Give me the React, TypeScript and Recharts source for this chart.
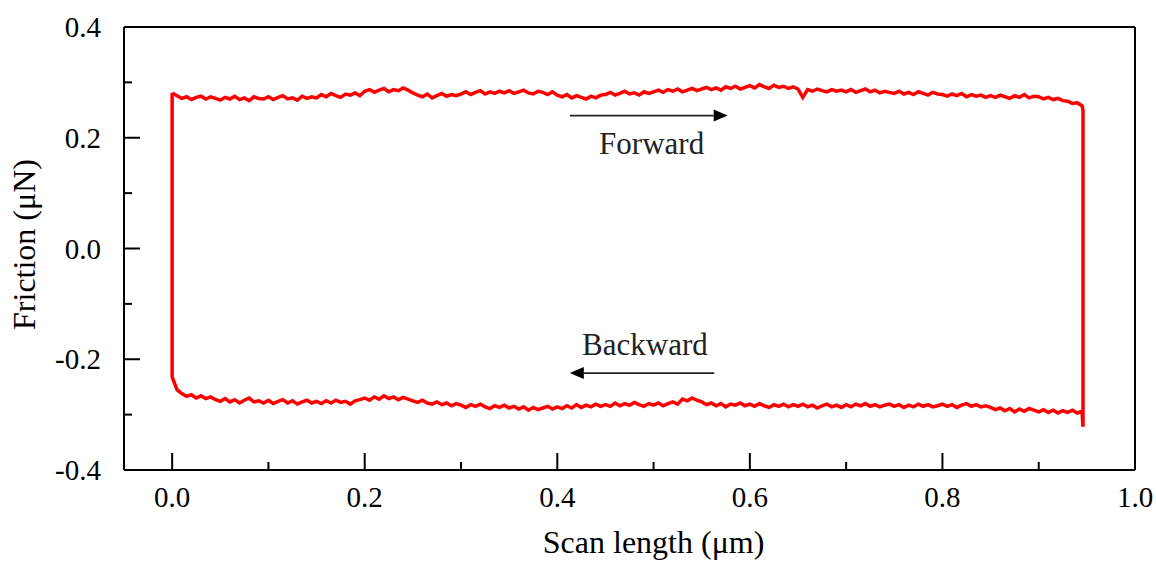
import React from 'react';
import { LineChart, Line, XAxis, YAxis, ReferenceLine, ReferenceDot } from 'recharts';

const scanGrid = [
  0.000, 0.005, 0.010, 0.015, 0.020, 0.025, 0.030, 0.035, 0.040, 0.045,
  0.050, 0.055, 0.060, 0.065, 0.070, 0.075, 0.080, 0.085, 0.090, 0.095,
  0.100, 0.105, 0.110, 0.115, 0.120, 0.125, 0.130, 0.135, 0.140, 0.145,
  0.150, 0.155, 0.160, 0.165, 0.170, 0.175, 0.180, 0.185, 0.190, 0.195,
  0.200, 0.205, 0.210, 0.215, 0.220, 0.225, 0.230, 0.235, 0.240, 0.245,
  0.250, 0.255, 0.260, 0.265, 0.270, 0.275, 0.280, 0.285, 0.290, 0.295,
  0.300, 0.305, 0.310, 0.315, 0.320, 0.325, 0.330, 0.335, 0.340, 0.345,
  0.350, 0.355, 0.360, 0.365, 0.370, 0.375, 0.380, 0.385, 0.390, 0.395,
  0.400, 0.405, 0.410, 0.415, 0.420, 0.425, 0.430, 0.435, 0.440, 0.445,
  0.450, 0.455, 0.460, 0.465, 0.470, 0.475, 0.480, 0.485, 0.490, 0.495,
  0.500, 0.505, 0.510, 0.515, 0.520, 0.525, 0.530, 0.535, 0.540, 0.545,
  0.550, 0.555, 0.560, 0.565, 0.570, 0.575, 0.580, 0.585, 0.590, 0.595,
  0.600, 0.605, 0.610, 0.615, 0.620, 0.625, 0.630, 0.635, 0.640, 0.645,
  0.650, 0.655, 0.660, 0.665, 0.670, 0.675, 0.680, 0.685, 0.690, 0.695,
  0.700, 0.705, 0.710, 0.715, 0.720, 0.725, 0.730, 0.735, 0.740, 0.745,
  0.750, 0.755, 0.760, 0.765, 0.770, 0.775, 0.780, 0.785, 0.790, 0.795,
  0.800, 0.805, 0.810, 0.815, 0.820, 0.825, 0.830, 0.835, 0.840, 0.845,
  0.850, 0.855, 0.860, 0.865, 0.870, 0.875, 0.880, 0.885, 0.890, 0.895,
  0.900, 0.905, 0.910, 0.915, 0.920, 0.925, 0.930, 0.935, 0.940, 0.945,
];

const frictionForward = [
  0.281, 0.276, 0.271, 0.274, 0.269, 0.273, 0.275, 0.270, 0.274, 0.271,
  0.268, 0.273, 0.270, 0.275, 0.269, 0.272, 0.267, 0.274, 0.271, 0.270,
  0.274, 0.269, 0.273, 0.276, 0.270, 0.272, 0.268, 0.275, 0.271, 0.274,
  0.272, 0.278, 0.274, 0.280, 0.276, 0.273, 0.279, 0.277, 0.281, 0.276,
  0.284, 0.287, 0.282, 0.286, 0.289, 0.283, 0.287, 0.285, 0.290, 0.286,
  0.281, 0.277, 0.274, 0.279, 0.272, 0.276, 0.280, 0.275, 0.278, 0.276,
  0.279, 0.283, 0.278, 0.282, 0.285, 0.279, 0.283, 0.280, 0.284, 0.281,
  0.285, 0.280, 0.283, 0.286, 0.281, 0.279, 0.284, 0.282, 0.278, 0.283,
  0.277, 0.274, 0.278, 0.272, 0.276, 0.273, 0.270, 0.275, 0.272, 0.277,
  0.278, 0.282, 0.277, 0.280, 0.284, 0.279, 0.281, 0.277, 0.283, 0.280,
  0.283, 0.286, 0.282, 0.287, 0.284, 0.288, 0.283, 0.286, 0.289, 0.285,
  0.288, 0.291, 0.287, 0.290, 0.286, 0.292, 0.289, 0.293, 0.288, 0.291,
  0.294, 0.290, 0.296, 0.292, 0.289, 0.295, 0.291, 0.293, 0.289, 0.292,
  0.288, 0.273, 0.287, 0.284, 0.288, 0.285, 0.283, 0.287, 0.284, 0.286,
  0.283, 0.287, 0.282, 0.285, 0.288, 0.283, 0.286, 0.281, 0.284, 0.282,
  0.280, 0.284, 0.279, 0.282, 0.278, 0.283, 0.280, 0.277, 0.282, 0.279,
  0.278, 0.275, 0.279, 0.276, 0.280, 0.274, 0.278, 0.275, 0.277, 0.273,
  0.276, 0.273, 0.277, 0.274, 0.271, 0.276, 0.273, 0.278, 0.272, 0.275,
  0.274, 0.270, 0.273, 0.269, 0.271, 0.267, 0.266, 0.262, 0.263, 0.258,
];

const frictionBackward = [
  -0.232, -0.255, -0.262, -0.267, -0.264, -0.270, -0.266, -0.271, -0.268, -0.273,
  -0.276, -0.271, -0.277, -0.273, -0.279, -0.274, -0.270, -0.277, -0.275, -0.279,
  -0.274, -0.280, -0.276, -0.273, -0.279, -0.275, -0.281, -0.277, -0.274, -0.279,
  -0.276, -0.280, -0.275, -0.279, -0.274, -0.278, -0.276, -0.281, -0.275, -0.273,
  -0.270, -0.274, -0.268, -0.272, -0.266, -0.271, -0.268, -0.273, -0.269, -0.272,
  -0.275, -0.278, -0.274, -0.279, -0.281, -0.277, -0.282, -0.279, -0.284, -0.280,
  -0.283, -0.287, -0.282, -0.285, -0.281, -0.286, -0.289, -0.284, -0.287, -0.283,
  -0.288, -0.285, -0.290, -0.286, -0.292, -0.287, -0.291, -0.288, -0.285, -0.290,
  -0.286, -0.289, -0.284, -0.288, -0.282, -0.287, -0.283, -0.286, -0.281, -0.285,
  -0.282, -0.285, -0.279, -0.284, -0.280, -0.283, -0.278, -0.282, -0.285, -0.280,
  -0.283, -0.279, -0.284, -0.280, -0.277, -0.281, -0.272, -0.275, -0.270, -0.274,
  -0.277, -0.282, -0.279, -0.284, -0.280, -0.286, -0.281, -0.283, -0.279, -0.284,
  -0.281, -0.285, -0.280, -0.284, -0.287, -0.282, -0.285, -0.281, -0.286, -0.282,
  -0.285, -0.281, -0.286, -0.283, -0.288, -0.284, -0.281, -0.286, -0.283, -0.287,
  -0.282, -0.286, -0.281, -0.284, -0.280, -0.285, -0.282, -0.286, -0.283, -0.281,
  -0.285, -0.282, -0.287, -0.283, -0.286, -0.281, -0.285, -0.282, -0.286, -0.284,
  -0.281, -0.285, -0.282, -0.287, -0.283, -0.280, -0.285, -0.282, -0.286, -0.284,
  -0.287, -0.291, -0.288, -0.293, -0.289, -0.295, -0.290, -0.294, -0.289, -0.292,
  -0.295, -0.291, -0.296, -0.292, -0.297, -0.293, -0.296, -0.292, -0.297, -0.294,
];

const rightEdgeScan = [0.946, 0.946];
const rightEdgeFriction = [0.25, -0.322];
const closingScan = [0.0];
const closingFriction = [0.281];

const xMajorTicks = [0, 0.2, 0.4, 0.6, 0.8, 1.0];
const xMinorTicks = [0.1, 0.3, 0.5, 0.7, 0.9];
const yMajorTicks = [-0.4, -0.2, 0, 0.2, 0.4];
const yMinorTicks = [-0.3, -0.1, 0.1, 0.3];

const forwardArrowScan = [0.413, 0.577];
const forwardArrowFriction = [0.24, 0.24];
const backwardArrowScan = [0.563, 0.413];
const backwardArrowFriction = [-0.225, -0.225];
const annotationLabels = ['Forward', 'Backward'];
const annotationScan = [0.498, 0.491];
const annotationFriction = [0.171, -0.193];

const xDomain = [-0.05, 1.0];
const yDomain = [-0.4, 0.4];

const FONT = '"Liberation Serif", "Times New Roman", serif';

const loopData = [
  ...scanGrid.map((x, i) => ({ x, f: frictionForward[i] })),
  ...rightEdgeScan.map((x, i) => ({ x, f: rightEdgeFriction[i] })),
  ...scanGrid.map((x, i) => ({ x, f: frictionBackward[i] })).reverse(),
  ...closingScan.map((x, i) => ({ x, f: closingFriction[i] })),
];

const isMajor = (v: number) => Math.abs(Math.round(v * 10)) % 2 === 0;

const XTick = (props: any) => {
  const { x, y, payload } = props;
  const v = payload.value;
  const major = isMajor(v);
  return (
    <g>
      <line x1={x} y1={y} x2={x} y2={y - (major ? 17 : 8)} stroke="#000" strokeWidth={2} />
      {major && (
        <text x={x} y={y + 37} textAnchor="middle" fontFamily={FONT} fontSize={29} fill="#000">
          {v.toFixed(1)}
        </text>
      )}
    </g>
  );
};

const YTick = (props: any) => {
  const { x, y, payload } = props;
  const v = payload.value;
  const major = isMajor(v);
  return (
    <g>
      <line x1={x} y1={y} x2={x + (major ? 16 : 8)} y2={y} stroke="#000" strokeWidth={2} />
      {major && (
        <text x={x - 23} y={y + 10} textAnchor="end" fontFamily={FONT} fontSize={29} fill="#000">
          {v.toFixed(1)}
        </text>
      )}
    </g>
  );
};

const ArrowShape = (props: any) => {
  const { x1, y1, x2, y2 } = props;
  const dx = x2 - x1;
  const dy = y2 - y1;
  const len = Math.sqrt(dx * dx + dy * dy) || 1;
  const ux = dx / len;
  const uy = dy / len;
  const head = 14;
  const half = 6;
  const bx = x2 - ux * head;
  const by = y2 - uy * head;
  const pts = `${x2},${y2} ${bx - uy * half},${by + ux * half} ${bx + uy * half},${by - ux * half}`;
  return (
    <g>
      <line x1={x1} y1={y1} x2={bx} y2={by} stroke="#222" strokeWidth={1.6} />
      <polygon points={pts} fill="#000" />
    </g>
  );
};

const makeTextShape = (label: string) => (props: any) => (
  <text x={props.cx} y={props.cy} textAnchor="middle" fontFamily={FONT} fontSize={31} fill="#222">
    {label}
  </text>
);

const XTitle = (props: any) => {
  const vb = props.viewBox;
  const cx = vb.x + (vb.width * (0.5 - xDomain[0])) / (xDomain[1] - xDomain[0]);
  return (
    <text x={cx} y={vb.y + 83} textAnchor="middle" fontFamily={FONT} fontSize={32} fill="#000">
      Scan length (μm)
    </text>
  );
};

const YTitle = (props: any) => {
  const vb = props.viewBox;
  const cx = vb.x - 29;
  const cy = vb.y + vb.height / 2 - 4;
  return (
    <text
      x={cx}
      y={cy}
      textAnchor="middle"
      transform={`rotate(-90, ${cx}, ${cy})`}
      fontFamily={FONT}
      fontSize={32}
      fill="#000"
    >
      Friction (μN)
    </text>
  );
};

export default function App() {
  const xTicks = [...xMajorTicks, ...xMinorTicks].sort((a, b) => a - b);
  const yTicks = [...yMajorTicks, ...yMinorTicks].sort((a, b) => a - b);
  return (
    <div style={{ width: 1156, height: 562, background: '#fff' }}>
      <style>{`body{margin:0;background:#fff;}`}</style>
      <LineChart
        width={1156}
        height={562}
        data={loopData}
        margin={{ top: 27, right: 21, left: 64, bottom: 32 }}
      >
        <XAxis
          dataKey="x"
          type="number"
          domain={xDomain}
          ticks={xTicks}
          interval={0}
          allowDataOverflow
          tickSize={0}
          tickMargin={0}
          tickLine={false}
          tick={<XTick />}
          axisLine={{ stroke: '#000', strokeWidth: 2 }}
          height={60}
          label={XTitle}
        />
        <YAxis
          type="number"
          domain={yDomain}
          ticks={yTicks}
          interval={0}
          allowDataOverflow
          tickSize={0}
          tickMargin={0}
          tickLine={false}
          tick={<YTick />}
          axisLine={{ stroke: '#000', strokeWidth: 2 }}
          width={60}
          label={YTitle}
        />
        <ReferenceLine y={yDomain[1]} stroke="#000" strokeWidth={2} />
        <ReferenceLine x={xDomain[1]} stroke="#000" strokeWidth={2} />
        <Line
          dataKey="f"
          type="linear"
          stroke="#ff0000"
          strokeWidth={3.5}
          dot={false}
          activeDot={false}
          isAnimationActive={false}
        />
        <ReferenceLine
          segment={[
            { x: forwardArrowScan[0], y: forwardArrowFriction[0] },
            { x: forwardArrowScan[1], y: forwardArrowFriction[1] },
          ]}
          shape={ArrowShape}
        />
        <ReferenceLine
          segment={[
            { x: backwardArrowScan[0], y: backwardArrowFriction[0] },
            { x: backwardArrowScan[1], y: backwardArrowFriction[1] },
          ]}
          shape={ArrowShape}
        />
        {annotationLabels.map((label, i) => (
          <ReferenceDot
            key={label}
            x={annotationScan[i]}
            y={annotationFriction[i]}
            r={0}
            shape={makeTextShape(label)}
          />
        ))}
      </LineChart>
    </div>
  );
}
